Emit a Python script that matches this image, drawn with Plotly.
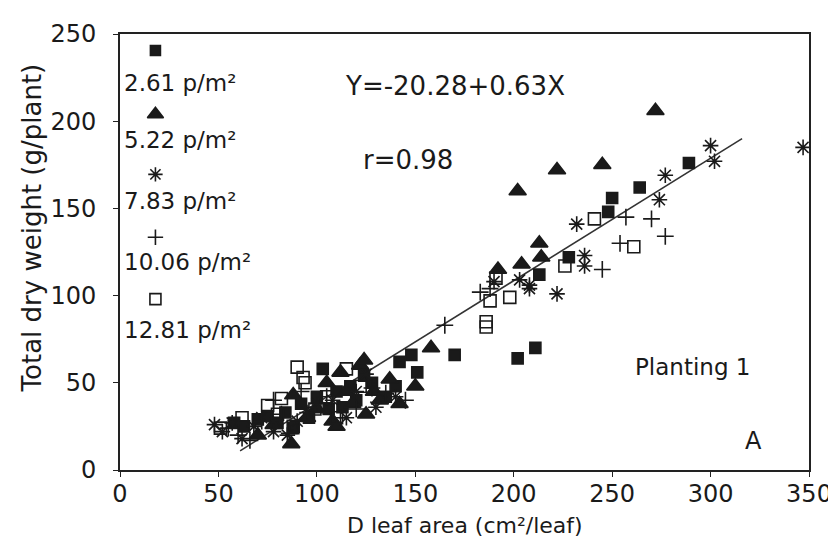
import plotly.graph_objects as go

# ---- data ----
series_names = ["2.61 p/m²", "5.22 p/m²", "7.83 p/m²", "10.06 p/m²", "12.81 p/m²"]

sq_x = [58, 63, 70, 75, 80, 84, 88, 92, 96, 100, 103, 106, 110, 113, 117, 120, 124, 128, 135, 140, 142, 148, 151, 170, 202, 211, 213, 228, 248, 250, 264, 289]
sq_y = [27, 25, 29, 31, 27, 33, 24, 38, 30, 42, 58, 35, 45, 36, 48, 40, 54, 50, 42, 48, 62, 66, 56, 66, 64, 70, 112, 122, 148, 156, 162, 176]

tri_x = [70, 78, 87, 88, 95, 100, 105, 108, 110, 112, 115, 118, 122, 124, 125, 129, 132, 137, 142, 150, 158, 192, 202, 204, 213, 214, 222, 245, 272]
tri_y = [20, 26, 15, 43, 30, 35, 50, 28, 25, 56, 45, 38, 60, 63, 32, 45, 40, 52, 38, 48, 70, 115, 160, 118, 130, 122, 172, 175, 206]

ast_x = [48, 52, 57, 62, 68, 72, 78, 85, 90, 95, 100, 108, 115, 120, 125, 130, 140, 190, 203, 208, 208, 222, 232, 236, 236, 274, 277, 300, 302, 347]
ast_y = [26, 22, 27, 18, 25, 30, 22, 20, 28, 33, 38, 40, 30, 45, 55, 36, 42, 108, 109, 104, 106, 101, 141, 123, 117, 155, 169, 186, 177, 185]

plus_x = [55, 60, 66, 72, 78, 82, 86, 92, 98, 105, 112, 120, 128, 135, 145, 165, 183, 188, 245, 254, 257, 270, 277]
plus_y = [24, 20, 17, 28, 40, 32, 21, 45, 36, 42, 30, 35, 47, 44, 40, 83, 102, 104, 115, 130, 145, 144, 134]

osq_x = [51, 62, 75, 80, 82, 88, 90, 93, 94, 99, 105, 110, 115, 122, 186, 186, 188, 191, 198, 226, 241, 261]
osq_y = [24, 30, 37, 32, 41, 25, 59, 53, 50, 35, 42, 30, 58, 48, 85, 82, 97, 110, 99, 117, 144, 128]

# fitted line end points
fit_x = [61, 316]
fit_y = [11, 190]

# legend key positions (data coordinates)
key_x = [18, 18, 18, 18, 18]
key_y = [240.5, 204, 169.5, 133.5, 98]
key_text_y = [222, 189, 154, 119, 80.5]

x_ticks = [0, 50, 100, 150, 200, 250, 300, 350]
y_ticks = [0, 50, 100, 150, 200, 250]

INK = "#1a1a1a"
FONT = "DejaVu Sans"

symbols = ["square", "triangle-up", "asterisk-open", "cross-thin-open", "square-open"]
sizes = [11, 15, 13, 12, 12]
xs = [sq_x, tri_x, ast_x, plus_x, osq_x]
ys = [sq_y, tri_y, ast_y, plus_y, osq_y]

fig = go.Figure()

fig.add_trace(go.Scatter(x=fit_x, y=fit_y, mode="lines",
                         line=dict(color="#333333", width=1.6),
                         showlegend=False, hoverinfo="skip"))

for i in range(5):
    fig.add_trace(go.Scatter(
        x=xs[i], y=ys[i], mode="markers", name=series_names[i],
        marker=dict(symbol=symbols[i], size=sizes[i], color=INK,
                    line=dict(color=INK, width=1.6)),
        showlegend=False))
    # legend key
    fig.add_trace(go.Scatter(
        x=[key_x[i]], y=[key_y[i]], mode="markers",
        marker=dict(symbol=symbols[i], size=sizes[i] - 1, color=INK,
                    line=dict(color=INK, width=1.6)),
        showlegend=False, hoverinfo="skip"))
    fig.add_annotation(x=1.0, y=key_text_y[i], xref="x", yref="y",
                       text=series_names[i], showarrow=False,
                       xanchor="left", yanchor="middle",
                       font=dict(family=FONT, size=23, color=INK))

fig.add_annotation(x=170, y=220, text="Y=-20.28+0.63X", showarrow=False,
                   font=dict(family=FONT, size=26, color=INK))
fig.add_annotation(x=146.5, y=177.5, text="r=0.98", showarrow=False,
                   font=dict(family=FONT, size=26, color=INK))
fig.add_annotation(x=291, y=59, text="Planting 1", showarrow=False,
                   font=dict(family=FONT, size=23, color=INK))
fig.add_annotation(x=322, y=16.5, text="A", showarrow=False,
                   font=dict(family=FONT, size=24, color=INK))

# axis titles as annotations (positioned as in the picture)
fig.add_annotation(xref="paper", yref="paper", x=-0.128, y=0.556,
                   text="Total dry weight (g/plant)", textangle=-90,
                   showarrow=False, xanchor="center", yanchor="middle",
                   font=dict(family=FONT, size=26, color=INK))
fig.add_annotation(xref="paper", yref="paper", x=0.5, y=-0.128,
                   text="D leaf area (cm²/leaf)",
                   showarrow=False, xanchor="center", yanchor="middle",
                   font=dict(family=FONT, size=22, color=INK))

axis_common = dict(showgrid=False, zeroline=False, showline=True,
                   linecolor="#222222", linewidth=2, mirror=True,
                   ticks="outside", ticklen=5, tickwidth=1.2, tickcolor="#222222",
                   tickfont=dict(family=FONT, size=24, color=INK))

fig.update_xaxes(range=[0, 350], tickvals=x_ticks, ticktext=[str(v) for v in x_ticks],
                 ticklabelstandoff=-4, **axis_common)
fig.update_yaxes(range=[0, 250], tickvals=y_ticks, ticktext=[str(v) for v in y_ticks],
                 ticklabelstandoff=12, **axis_common)

fig.update_layout(width=836, height=540,
                  margin=dict(l=112, r=33, t=20, b=78),
                  paper_bgcolor="white", plot_bgcolor="white",
                  showlegend=False)

fig.write_html("out.html")
